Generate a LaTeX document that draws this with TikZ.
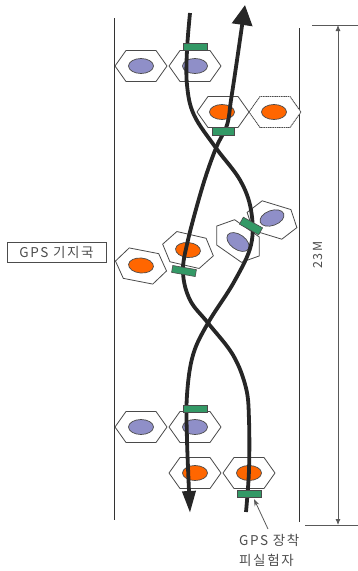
\documentclass[tikz,border=0pt]{standalone}
\usepackage{fontspec}
\newfontfamily\kr[LetterSpace=12]{Noto Sans CJK KR}
\usetikzlibrary{arrows.meta,shapes.geometric}
\definecolor{ov}{HTML}{FF6600}
\definecolor{bl}{HTML}{8F8FC8}
\definecolor{gr}{HTML}{339966}
\definecolor{ink}{HTML}{262626}
\definecolor{txt}{HTML}{4D4D4D}
\definecolor{edge}{HTML}{4A4A4A}
\tikzset{
  hex/.pic={\path[pic actions] (-26,0) -- (-15,-15.5) -- (15,-15.5) -- (26,0) -- (15,15.5) -- (-15,15.5) -- cycle;},
  hexa/.style={draw=edge, line width=0.8pt, fill=white},
  hexd/.style={draw=edge, line width=0.9pt, fill=white, dash pattern=on 1.2pt off 0.6pt},
  eo/.style={ellipse, draw=edge, line width=0.7pt, fill=ov, minimum width=25pt, minimum height=15pt, inner sep=0pt},
  eb/.style={ellipse, draw=edge, line width=0.7pt, fill=bl, minimum width=25pt, minimum height=15pt, inner sep=0pt},
  tag/.style={draw=edge, fill=gr, line width=0.6pt, minimum width=24pt, minimum height=7pt, inner sep=0pt},
  track/.style={draw=ink, line width=3.8pt},
  frame/.style={draw=black!80, line width=0.8pt},
  dim/.style={draw=black!65, line width=0.8pt},
  lbl/.style={text=txt, font=\kr\fontsize{13.5}{20}\selectfont, inner sep=0pt},
}
\begin{document}
\begin{tikzpicture}[x=1pt,y=-1pt]
\useasboundingbox (0,0) rectangle (358,571);
% frame lines
\draw[frame] (114,18) -- (114,520);
\draw[frame] (299,28) -- (299,522);
% dimension
\draw[dim] (312,25) -- (358,25);
\draw[dim] (305,525) -- (358,525);
\draw[dim, {Latex[length=6pt,width=5pt]}-{Latex[length=6pt,width=5pt]}] (338,25) -- (338,525);
% hexagons
\pic[hexa] at (141,66) {hex};
\pic[hexa] at (195,66) {hex};
\pic[hexa] at (223,112) {hex};
\pic[hexd] at (275,112) {hex};
\pic[hexa, rotate=-11] at (141,266) {hex};
\pic[hexa, rotate=-13] at (188,250) {hex};
\pic[hexa, rotate=-35] at (238,241) {hex};
\pic[hexa, rotate=-17] at (272,220) {hex};
\pic[hexa] at (141,427) {hex};
\pic[hexa] at (195,427) {hex};
\pic[hexa] at (195,473) {hex};
\pic[hexa] at (249,473) {hex};
% ellipses
\node[eb] (e1) at (141,66) {};
\node[eb] (e2) at (195,66) {};
\node[eo] (e3) at (222,112) {};
\node[eo] (e4) at (274,112) {};
\node[eo, rotate=-5] (e5) at (141,265.5) {};
\node[eo, rotate=-5] (e6) at (188,250) {};
\node[eb, rotate=-35] (e7) at (238,242) {};
\node[eb, rotate=20] (e8) at (272,218) {};
\node[eb] (e9) at (141,427) {};
\node[eb] (e10) at (195,427) {};
\node[eo] (e11) at (195,473) {};
\node[eo] (e12) at (249,473) {};
% tracks
\draw[track, -{Triangle[width=13pt,length=22pt]}] plot[smooth, tension=0.6] coordinates {(190,13) (187,50) (187,85) (194,115) (216,148) (240,180) (251,210) (251,245) (234,282) (208,323) (193,355) (187,395) (187,440) (190,513)};
\draw[track, -{Triangle[width=20pt,length=20pt]}] plot[smooth, tension=0.6] coordinates {(246,512) (249,470) (249,420) (246,388) (233,355) (208,323) (190,300) (183,272) (188,240) (203,185) (216,148) (227,125) (231,100) (236,67) (245,5)};
% tags
\node[tag] (t1) at (195,46.5) {};
\node[tag, minimum width=22pt, minimum height=8pt] (t2) at (223,131.5) {};
\node[tag, rotate=-10] (t3) at (184,271) {};
\node[tag, rotate=-29, minimum width=22pt, minimum height=8pt] (t4) at (251,226) {};
\node[tag] (t5) at (195,408.5) {};
\node[tag] (t6) at (249,493.5) {};
% labels
\node[lbl, draw=black!70, line width=0.8pt, minimum width=99pt, minimum height=20pt] (base) at (56.5,252) {GPS 기지국};
\node[lbl, rotate=90, font=\kr\fontsize{12.5}{15}\selectfont] (len) at (318,255) {23M};
\node[lbl, align=left, anchor=north west] (subj) at (239,534) {GPS 장착\\피실험자};
\coordinate (annfrom) at (268,529);
\coordinate (annto) at (254,499);
\draw[dim, -{Stealth[length=7pt,width=5pt]}] (annfrom) -- (annto);
\end{tikzpicture}
\end{document}
